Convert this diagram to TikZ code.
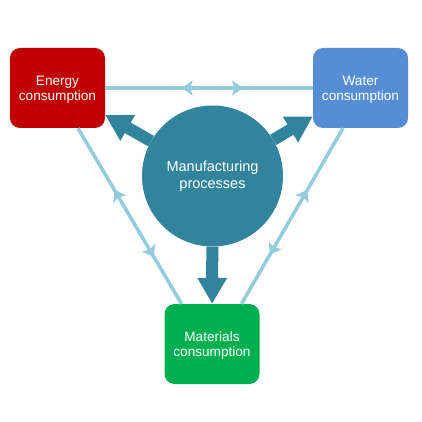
\documentclass[tikz,border=0pt]{standalone}
\usepackage{fontspec}
\setmainfont{Liberation Sans}
\usetikzlibrary{arrows.meta,decorations.markings,calc}
\definecolor{ered}{HTML}{C00000}
\definecolor{wblue}{HTML}{558ED5}
\definecolor{mgreen}{HTML}{00B050}
\definecolor{mteal}{HTML}{31849B}
\definecolor{lblue}{HTML}{93CDDD}
\tikzset{lt/.tip={Stealth[length=10.5pt,width=15pt,inset=2pt]}}
\begin{document}
\begin{tikzpicture}[x=1pt,y=-1pt,
  box/.style={rectangle, rounded corners=10pt, minimum width=95pt, minimum height=80pt,
    inner sep=0pt},
  boxtext/.style={text=white, align=center, inner sep=0pt, font=\fontsize{13.6}{15.5}\selectfont},
  hub/.style={circle, minimum size=141pt, inner sep=0pt, fill=mteal, text=white,
    align=center, font=\fontsize{14.5}{17}\selectfont},
  light/.style={draw=lblue, line width=3.5pt},
  bidir/.style 2 args={postaction={decorate}, decoration={markings,
    mark=at position #1 with {\arrowreversed{lt}},
    mark=at position #2 with {\arrow{lt}}}},
  bigarrow/.style={draw=mteal, line width=12pt, -{Triangle[length=26pt,width=28pt]}}
]
\useasboundingbox[fill=white] (0,0) rectangle (422,422);
\node[box, fill=ered] (energy) at (57.5,88) {};
\node[box, fill=wblue] (water) at (360.5,88) {};
\node[box, fill=mgreen] (materials) at (212,344) {};
\node[boxtext] (energyt) at ([yshift=-1.5pt]energy.center) {Energy\\consumption};
\node[boxtext] (watert) at ([yshift=-1.5pt]water.center) {Water\\consumption};
\node[boxtext] (materialst) at ([yshift=-1.5pt]materials.center) {Materials\\consumption};
\node[hub] (mfg) at (212.5,176) {Manufacturing\\processes};

\draw[light, bidir={0.37}{0.663}] (energy.east) -- (water.west);
\draw[light, bidir={0.352}{0.733}] ([xshift=20.5pt]energy.south) -- ([xshift=-30.5pt]materials.north);
\draw[light, bidir={0.352}{0.72}] ([xshift=-17.5pt]water.south) -- ([xshift=29.5pt]materials.north);

\draw[bigarrow] (mfg) -- (energy);
\draw[bigarrow] (mfg) -- (water);
\draw[bigarrow] (mfg) -- (materials);
\end{tikzpicture}
\end{document}
